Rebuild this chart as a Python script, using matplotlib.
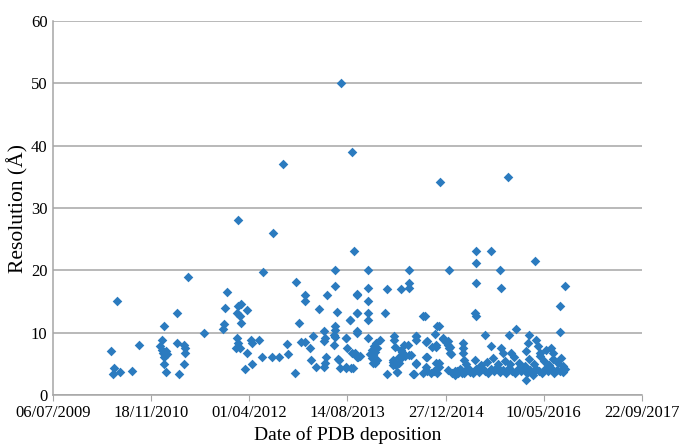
import numpy as np
import pandas as pd
import matplotlib
matplotlib.use('Agg')
import matplotlib.pyplot as plt
import matplotlib.dates as mdates

# x values are Excel serial dates (40000 = 06/07/2009), y is resolution in Angstrom
dep_serial = [
    40295, 40324, 40310, 40304, 40343, 40401, 40439, 40553, 40567, 40545,
    40555, 40560, 40570, 40575, 40565, 40580, 40567, 40575, 40633, 40633,
    40643, 40667, 40670, 40672, 40667, 40687, 40769, 40867, 40872, 40874,
    40887, 40942, 40943, 40960, 40986, 40935, 40952, 40957, 40937, 40942,
    40952, 40931, 40986, 40977, 41011, 41016, 41050, 41014, 41062, 41113,
    41152, 41072, 41121, 41190, 41195, 41232, 41238, 41252, 41262, 41286,
    41283, 41286, 41308, 41323, 41315, 41342, 41355, 41381, 41388, 41381,
    41390, 41385, 41381, 41395, 41435, 41437, 41447, 41435, 41435, 41430,
    41435, 41430, 41457, 41461, 41452, 41469, 41523, 41172, 41970, 42317,
    41495, 41498, 41491, 41517, 41512, 41525, 41534, 41546, 41546, 41546,
    41551, 41563, 41607, 41607, 41607, 41607, 41607, 41607, 41614, 41624,
    41634, 41644, 41648, 41639, 41664, 41690, 41701, 41739, 41739, 41741,
    41732, 41739, 41749, 41754, 41762, 41771, 41813, 41813, 41813, 41788,
    41780, 41792, 41826, 41837, 41851, 41848, 41851, 41885, 41902, 41902,
    41883, 41904, 41924, 41939, 41955, 41948, 41966, 41953, 41966, 41985,
    42000, 42011, 42016, 42026, 42016, 42012, 42031, 42046, 42056, 42072,
    42082, 42097, 42112, 42122, 42088, 42088, 42088, 42092, 42157, 42233,
    42157, 42157, 42148, 42157, 42275, 42280, 42453, 42610, 42584, 42581,
    42202, 42321, 42360, 42424, 42233, 42284, 42292, 42335, 42411, 42419,
    42462, 42470, 42479, 42513, 42538, 42547, 42408, 42443,
    # dense band 2015-2016
    42046, 42061, 42077, 42092, 42107, 42123, 42138, 42153, 42168, 42184,
    42199, 42214, 42229, 42245, 42260, 42275, 42291, 42306, 42321, 42336,
    42352, 42367, 42382, 42397, 42413, 42428, 42443, 42458, 42474, 42489,
    42504, 42520, 42535, 42550, 42565, 42581, 42596, 42606,
    42102, 42148, 42179, 42209, 42240, 42265, 42301, 42326, 42346, 42372,
    42402, 42423, 42448, 42479, 42499, 42525, 42545, 42570, 42586, 42596,
    # extra points 2013-2014
    41546, 41546, 41546, 41512, 41702, 41893, 41958, 41930, 41809, 41851,
    41904, 41953, 41985, 42011, 42020, 42020, 41650, 41641, 41632, 41624,
    41632, 41495, 41538, 41555, 41495, 41530, 41732, 41732, 41754, 41771,
    41762, 41771, 41813, 41832, 41851, 41904, 41902, 41953, 41966,
]
resolution = [
    7.1, 15.1, 4.4, 3.4, 3.7, 3.85, 8.0, 8.9, 11.1, 7.8,
    7.3, 6.8, 6.4, 7.0, 6.1, 6.6, 5.0, 3.7, 13.2, 8.3,
    3.3, 8.1, 7.5, 6.7, 4.9, 19.0, 9.9, 10.6, 11.4, 14.0,
    16.5, 28.0, 14.2, 14.6, 13.6, 13.1, 12.6, 11.5, 9.2, 8.3,
    7.5, 7.6, 6.7, 4.1, 8.8, 8.3, 8.9, 5.0, 6.1, 6.1,
    6.1, 19.8, 26.0, 8.2, 6.6, 3.6, 18.1, 11.5, 8.5, 8.5,
    16.0, 15.1, 7.5, 9.5, 5.6, 4.5, 13.8, 10.2, 9.1, 8.6,
    6.1, 5.1, 4.5, 16.0, 20.0, 17.5, 13.3, 11.1, 10.4, 9.7,
    9.3, 8.1, 5.6, 4.3, 5.8, 50.0, 39.0, 37.0, 34.1, 35.0,
    9.1, 7.5, 4.4, 4.4, 12.0, 6.7, 23.1, 16.0, 13.1, 10.0,
    6.1, 6.3, 20.0, 17.1, 15.1, 13.1, 12.1, 9.1, 6.6, 7.2,
    7.8, 8.3, 5.6, 5.1, 8.8, 13.1, 3.3, 9.5, 8.8, 7.7,
    5.6, 5.2, 4.8, 3.7, 5.2, 17.0, 20.0, 18.0, 17.1, 8.1,
    6.9, 6.3, 6.4, 3.3, 9.4, 8.9, 5.0, 12.7, 8.5, 6.1,
    3.6, 3.8, 3.6, 3.8, 3.6, 9.8, 11.1, 8.1, 5.1, 9.0,
    8.5, 8.0, 7.5, 6.5, 20.0, 4.0, 3.5, 3.2, 3.8, 4.2,
    3.5, 3.9, 4.3, 3.7, 8.4, 7.5, 6.7, 5.6, 23.1, 23.1,
    21.1, 18.0, 13.1, 12.7, 20.0, 17.1, 21.5, 17.5, 14.3, 10.1,
    9.6, 9.6, 10.6, 9.6, 7.8, 7.5, 6.7, 6.7, 7.0, 8.3,
    8.8, 7.8, 6.7, 7.2, 7.5, 6.7, 2.4, 3.2,
    3.8, 3.5, 4.0, 3.6, 4.2, 3.9, 3.5, 4.1, 3.7, 4.4,
    3.9, 3.6, 4.2, 3.8, 4.5, 3.7, 4.0, 3.6, 4.3, 3.9,
    3.5, 4.1, 3.8, 4.4, 3.6, 4.0, 3.7, 4.2, 3.9, 3.5,
    4.1, 3.8, 4.3, 3.6, 4.0, 3.9, 3.7, 4.2,
    5.0, 5.6, 4.8, 5.3, 6.0, 5.0, 5.5, 4.9, 6.1, 5.2,
    4.7, 5.8, 5.0, 6.2, 5.4, 4.8, 5.7, 5.1, 6.0, 4.6,
    16.2, 13.1, 10.2, 12.0, 17.0, 12.6, 11.0, 7.7, 8.0, 9.4,
    8.6, 7.7, 9.1, 8.6, 7.7, 6.7, 7.5, 6.9, 6.4, 5.9,
    5.1, 9.1, 6.7, 6.1, 4.5, 4.4, 5.3, 4.8, 3.7, 7.2,
    6.1, 5.9, 6.4, 3.4, 5.1, 6.1, 4.5, 5.1, 4.5,
]

tick_serial = [40000, 40500, 41000, 41500, 42000, 42500, 43000]

dates = pd.to_datetime(dep_serial, unit='D', origin='1899-12-30')
ticks = pd.to_datetime(tick_serial, unit='D', origin='1899-12-30')

plt.rcParams['font.family'] = ['Liberation Serif', 'DejaVu Serif']

fig = plt.figure(figsize=(6.8, 4.47), dpi=100)
ax = fig.add_axes([0.078, 0.1163, 0.866, 0.8367])

ax.scatter(dates, resolution, marker='D', s=24, color='#2b7bbf', linewidths=0, zorder=3)

ax.set_xlim(ticks[0], ticks[-1])
ax.set_ylim(0, 60)
ax.set_xticks(ticks)
ax.xaxis.set_major_formatter(mdates.DateFormatter('%d/%m/%Y'))
ax.set_yticks(np.arange(0, 61, 10))

ax.grid(axis='y', color='#a6a6a6', linewidth=1.1)
ax.set_axisbelow(True)
for s in ['top', 'right']:
    ax.spines[s].set_visible(False)
for s in ['left', 'bottom']:
    ax.spines[s].set_color('#a6a6a6')
    ax.spines[s].set_linewidth(1.1)
ax.tick_params(axis='x', length=4, color='#a6a6a6', labelsize=12, pad=3)
ax.tick_params(axis='y', length=0, labelsize=12, pad=4)

ax.set_xlabel('Date of PDB deposition', fontsize=14, labelpad=4)
ax.set_ylabel('Resolution (Å)', fontsize=15.5)
ax.yaxis.set_label_coords(-0.042, 0.5)

fig.savefig('out.png', dpi=100)
